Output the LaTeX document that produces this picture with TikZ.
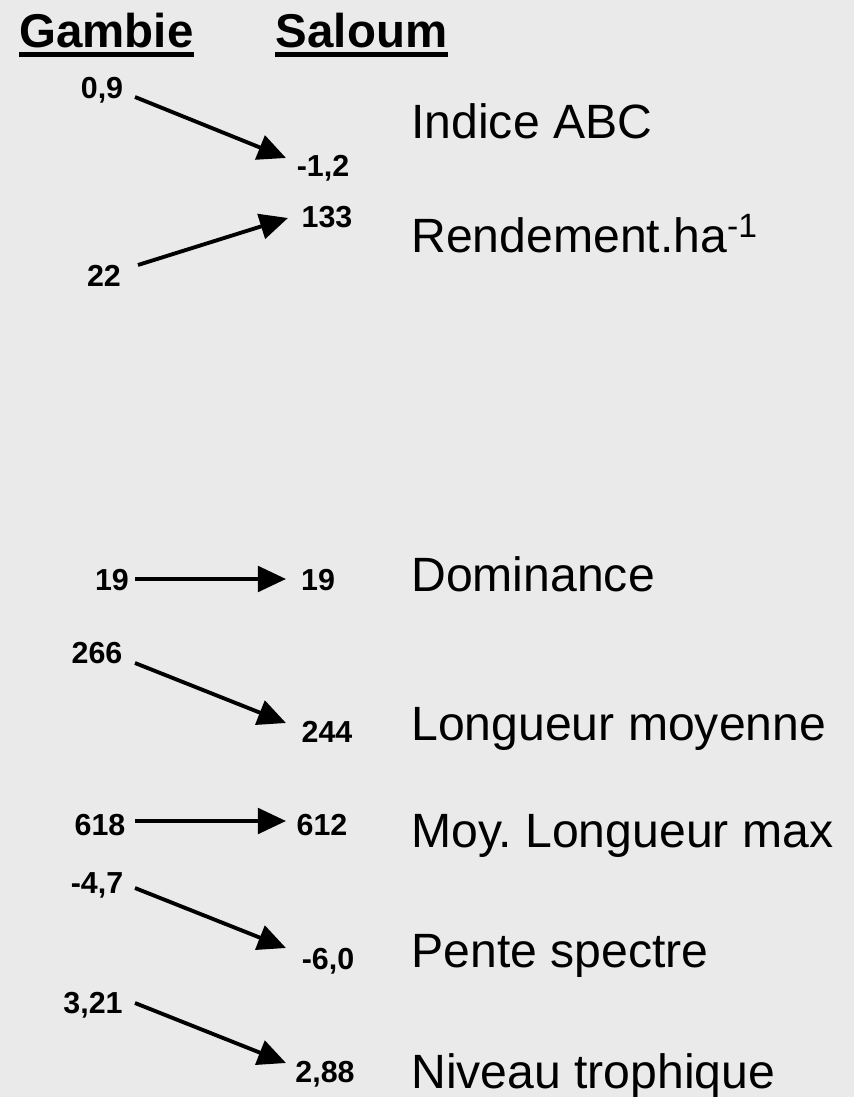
\documentclass[tikz,border=0pt]{standalone}
\usepackage{fontspec}
\setmainfont{Liberation Sans}
\usetikzlibrary{arrows.meta}
\definecolor{fond}{HTML}{EAEAEA}
\frenchspacing
\tikzset{%
	titre/.style    	= {inner sep = 0pt, anchor = base, font = \fontsize{27}{32}\selectfont\bfseries}, % Column heads
	valeur/.style   	= {inner sep = 0pt, anchor = base, font = \fontsize{17.3}{20}\selectfont\bfseries}, % Values
	indice/.style   	= {inner sep = 0pt, anchor = base west, font = \fontsize{27.4}{32}\selectfont}, % Indicators
	fleche/.style   	= {line width = 2.2pt, -{Triangle[length = 16pt, width = 14.5pt]}}, % Arrows
	souligne/.style 	= {line width = 2.8pt} % Underline
}

\begin{document}
\begin{tikzpicture}[x=0.02cm, y=-0.02cm]
	\fill[fond] (0, 0) rectangle (854, 1097);
	\useasboundingbox (0, 0) rectangle (859, 1097);

	% Column heads
	\node[titre] (gambie) at (106.5, 48) {Gambie};
	\node[titre] (saloum) at (361.5, 48) {Saloum};
	\draw[souligne] ([yshift=-3.7pt]gambie.base west) -- ([yshift=-3.7pt]gambie.base east);
	\draw[souligne] ([yshift=-3.7pt]saloum.base west) -- ([yshift=-3.7pt]saloum.base east);

	% Indicators
	\node[indice] (abc) at (411, 139) {Indice ABC};
	\node[indice] (rend) at (411, 253) {Rendement.ha\textsuperscript{-1}};
	\node[indice] (dom) at (411, 591) {Dominance};
	\node[indice] (lmoy) at (411, 740) {Longueur moyenne};
	\node[indice] (lmax) at (411, 847) {Moy. Longueur max};
	\node[indice] (pente) at (411, 967) {Pente spectre};
	\node[indice] (niveau) at (411, 1088) {Niveau trophique};

	% Values : Gambie (g) and Saloum (s)
	\node[valeur] (g1) at (102, 99) {0,9};
	\node[valeur] (s1) at (323, 177) {-1,2};
	\node[valeur] (g2) at (104, 287) {22};
	\node[valeur] (s2) at (327, 228) {133};
	\node[valeur] (g3) at (112, 590) {19};
	\node[valeur] (s3) at (318, 590) {19};
	\node[valeur] (g4) at (97, 663) {266};
	\node[valeur] (s4) at (327, 742) {244};
	\node[valeur] (g5) at (100, 835) {618};
	\node[valeur] (s5) at (322, 835) {612};
	\node[valeur] (g6) at (97, 893) {-4,7};
	\node[valeur] (s6) at (328, 969) {-6,0};
	\node[valeur] (g7) at (93, 1013) {3,21};
	\node[valeur] (s7) at (325, 1082) {2,88};

	% Arrow ends
	\coordinate (g1a) at (135, 97);   \coordinate (s1a) at (286, 158);
	\coordinate (g2a) at (138, 265);  \coordinate (s2a) at (288, 218);
	\coordinate (g3a) at (135, 579);  \coordinate (s3a) at (286, 579);
	\coordinate (g4a) at (135, 663);  \coordinate (s4a) at (286, 723);
	\coordinate (g5a) at (135, 821);  \coordinate (s5a) at (286, 821);
	\coordinate (g6a) at (135, 888);  \coordinate (s6a) at (286, 948);
	\coordinate (g7a) at (135, 1003); \coordinate (s7a) at (286, 1063);

	\draw[fleche] (g1a) -- (s1a);
	\draw[fleche] (g2a) -- (s2a);
	\draw[fleche] (g3a) -- (s3a);
	\draw[fleche] (g4a) -- (s4a);
	\draw[fleche] (g5a) -- (s5a);
	\draw[fleche] (g6a) -- (s6a);
	\draw[fleche] (g7a) -- (s7a);
\end{tikzpicture}
\end{document}
